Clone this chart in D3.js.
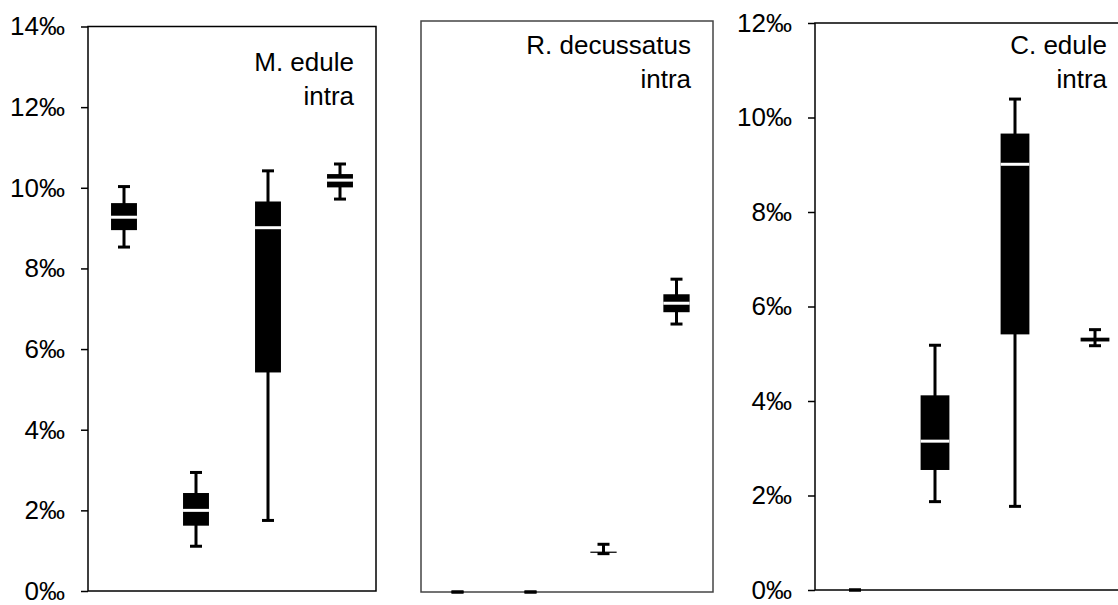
<!DOCTYPE html>
<html>
<head>
<meta charset="utf-8">
<script src="https://cdn.jsdelivr.net/npm/d3@7"></script>
<style>
  body { margin: 0; background: #fff; }
  svg { display: block; font-family: Arial, "Liberation Sans", sans-serif; }
</style>
</head>
<body>
<div id="chart"></div>
<script>
//Data: five-number summaries [low whisker, Q1, median, Q3, high whisker] in per mille;
const categories = ["1", "2", "3", "4"];

const mEdule = [
  [8.53, 8.95, 9.27, 9.62, 10.03],
  [1.11, 1.62, 2.00, 2.43, 2.94],
  [1.75, 5.42, 9.01, 9.66, 10.42],
  [9.72, 10.01, 10.19, 10.34, 10.59]
];

const rDecussatus = [
  [0, 0, 0, 0, 0],
  [0, 0, 0, 0, 0],
  [0.94, 0.96, 0.97, 0.99, 1.17],
  [6.57, 6.86, 7.08, 7.30, 7.67]
];

const cEdule = [
  [0, 0, 0, 0, 0],
  [1.87, 2.54, 3.15, 4.12, 5.18],
  [1.77, 5.41, 9.01, 9.66, 10.39],
  [5.17, 5.26, 5.30, 5.34, 5.51]
];

const mEduleTicks = [0, 2, 4, 6, 8, 10, 12, 14];
const cEduleTicks = [0, 2, 4, 6, 8, 10, 12];

//Set Height and Width Vars;
const w = 1118;
const h = 605;

const svg = d3.select("#chart")
  .append("svg")
    .attr("width", w)
    .attr("height", h);

//Panel layout;
const panels = [
  {data: mEdule, title: ["M. edule", "intra"], max: 14, ticks: mEduleTicks,
   left: 88, right: 376, top: 26.5, bottom: 591, frame: "#000",
   titleX: 354, titleY: 71},
  {data: rDecussatus, title: ["R. decussatus", "intra"], max: 14, ticks: null,
   left: 421, right: 713, top: 21, bottom: 592, frame: "#444",
   titleX: 691, titleY: 54},
  {data: cEdule, title: ["C. edule", "intra"], max: 12, ticks: cEduleTicks,
   left: 815, right: 1135, top: 23, bottom: 590, frame: "#000",
   titleX: 1107, titleY: 54}
];

panels.forEach(function(p) {
  const g = svg.append("g");

  const xScale = d3.scaleBand()
    .domain(categories)
    .range([p.left, p.right]);

  const yScale = d3.scaleLinear()
    .domain([0, p.max])
    .range([p.bottom, p.top]);

  const cx = function(i) { return xScale(categories[i]) + xScale.bandwidth() / 2; };

  //Frame;
  g.append("rect")
    .attr("x", p.left)
    .attr("y", p.top)
    .attr("width", p.right - p.left)
    .attr("height", p.bottom - p.top)
    .attr("fill", "none")
    .attr("stroke", p.frame)
    .attr("stroke-width", 1.5);

  //Y Axis;
  if (p.ticks) {
    const yAxis = d3.axisLeft(yScale)
      .tickValues(p.ticks)
      .tickSize(7)
      .tickPadding(16)
      .tickFormat(function(d) { return d + "‰"; });

    const ax = g.append("g")
      .attr("transform", "translate(" + p.left + ",0)")
      .call(yAxis);

    ax.select(".domain").remove();
    ax.selectAll(".tick line")
      .attr("stroke", "#000")
      .attr("stroke-width", 1.5);
    ax.selectAll(".tick text")
      .attr("fill", "#000")
      .attr("font-size", "26px")
      .attr("font-family", "Arial, 'Liberation Sans', sans-serif");
  }

  const bw = xScale.bandwidth() * 0.36;
  const cw = 12;

  const box = g.selectAll(".box")
    .data(p.data)
    .enter()
    .append("g")
      .attr("class", "box");

  //Whiskers;
  box.append("line")
    .attr("x1", function(d, i) { return cx(i); })
    .attr("x2", function(d, i) { return cx(i); })
    .attr("y1", function(d) { return yScale(d[0]); })
    .attr("y2", function(d) { return yScale(d[4]); })
    .attr("stroke", "#000")
    .attr("stroke-width", 3);

  //Caps;
  [0, 4].forEach(function(k) {
    box.append("line")
      .attr("x1", function(d, i) { return cx(i) - cw / 2; })
      .attr("x2", function(d, i) { return cx(i) + cw / 2; })
      .attr("y1", function(d) { return yScale(d[k]); })
      .attr("y2", function(d) { return yScale(d[k]); })
      .attr("stroke", "#000")
      .attr("stroke-width", 3);
  });

  //Boxes;
  box.append("rect")
    .attr("x", function(d, i) { return cx(i) - bw / 2; })
    .attr("y", function(d) { return yScale(d[3]); })
    .attr("width", bw)
    .attr("height", function(d) { return yScale(d[1]) - yScale(d[3]); })
    .attr("fill", "#000");

  //Median;
  box.filter(function(d) { return yScale(d[1]) - yScale(d[3]) > 6; })
    .append("line")
    .attr("x1", function(d) { return cx(p.data.indexOf(d)) - bw / 2; })
    .attr("x2", function(d) { return cx(p.data.indexOf(d)) + bw / 2; })
    .attr("y1", function(d) { return yScale(d[2]); })
    .attr("y2", function(d) { return yScale(d[2]); })
    .attr("stroke", "#fff")
    .attr("stroke-width", 3);

  //Title;
  const t = g.append("text")
    .attr("x", p.titleX)
    .attr("y", p.titleY)
    .attr("text-anchor", "end")
    .attr("font-size", "26px")
    .attr("fill", "#000");

  t.selectAll("tspan")
    .data(p.title)
    .enter()
    .append("tspan")
      .attr("x", p.titleX)
      .attr("dy", function(d, i) { return i === 0 ? 0 : 34; })
      .text(function(d) { return d; });
});
</script>
</body>
</html>
